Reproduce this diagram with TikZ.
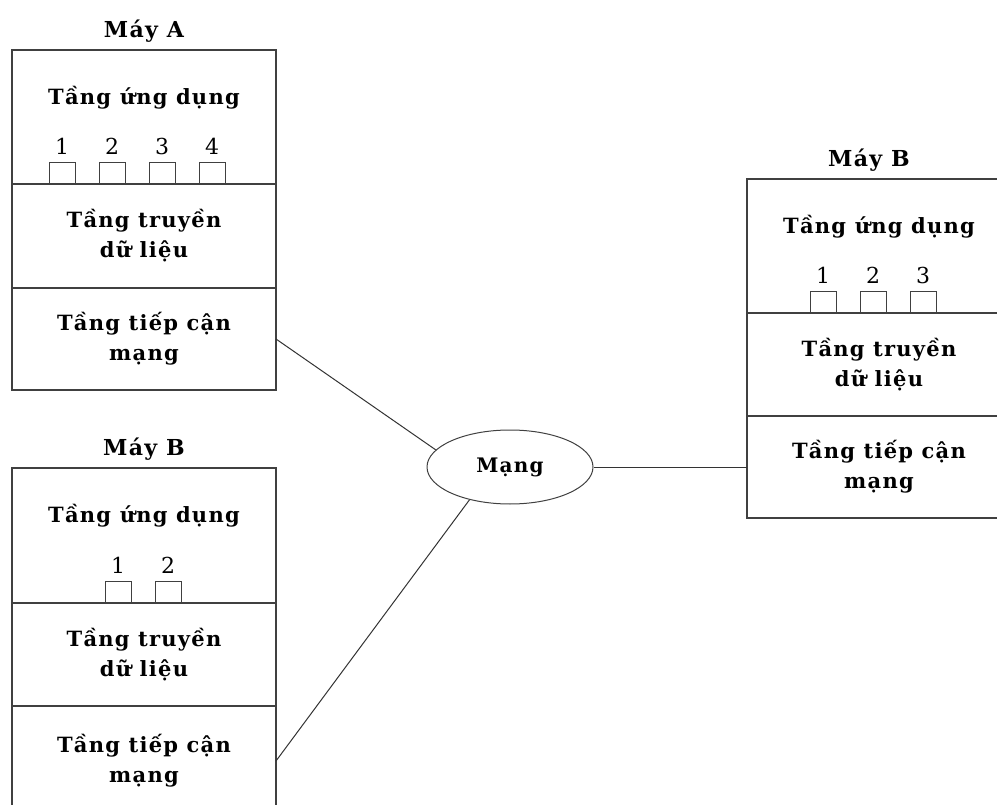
\documentclass[tikz,border=0pt]{standalone}
\usepackage{fontspec}
\setmainfont{DejaVu Serif}
\newfontfamily\lblfont[LetterSpace=6]{DejaVu Serif}
\usetikzlibrary{positioning}
\usetikzlibrary{shapes.geometric}

\begin{document}
\begin{tikzpicture}[x=1pt, y=-1pt,
layer/.style={draw=black!75, line width=1.3pt, minimum width=264pt, inner sep=0pt, outer sep=0pt, align=center, font=\lblfont\bfseries\fontsize{21}{30}\selectfont},
title/.style={font=\lblfont\bfseries\fontsize{22}{26}\selectfont},
txt/.style={font=\lblfont\bfseries\fontsize{21}{26}\selectfont},
port/.style={draw=black!75, line width=1pt, minimum width=26pt, minimum height=21pt, inner sep=0pt, anchor=south},
num/.style={font=\fontsize{22}{26}\selectfont, label distance=4pt},
link/.style={draw=black!80, line width=1pt}
]
\useasboundingbox (0,0) rectangle (997,805);

%create nodes
\node[layer, minimum height=134pt, anchor=north west] (appA) at (12,50) {};
\node[layer, minimum height=104pt, below=0pt of appA] (tranA) {Tầng truyền\\dữ liệu};
\node[layer, minimum height=102pt, below=0pt of tranA] (netA) {Tầng tiếp cận\\mạng};
\node[title, above=4pt of appA] (mayA) {Máy A};
\node[txt, below=33pt of appA.north] (tA) {Tầng ứng dụng};
\foreach \i/\x in {1/62, 2/112, 3/162, 4/212}
  \node[port, label={[num]above:\i}] (pA\i) at (\x,184) {};

\node[layer, minimum height=135pt, anchor=north west] (appB) at (12,468) {};
\node[layer, minimum height=103pt, below=0pt of appB] (tranB) {Tầng truyền\\dữ liệu};
\node[layer, minimum height=110pt, below=0pt of tranB] (netB) {Tầng tiếp cận\\mạng};
\node[title, above=4pt of appB] (mayB) {Máy B};
\node[txt, below=33pt of appB.north] (tB) {Tầng ứng dụng};
\foreach \i/\x in {1/118, 2/168}
  \node[port, label={[num]above:\i}] (pB\i) at (\x,603) {};

\node[layer, minimum height=134pt, anchor=north west] (appC) at (747,179) {};
\node[layer, minimum height=103pt, below=0pt of appC] (tranC) {Tầng truyền\\dữ liệu};
\node[layer, minimum height=102pt, below=0pt of tranC] (netC) {Tầng tiếp cận\\mạng};
\node[title, above=4pt of appC, xshift=-10pt] (mayC) {Máy B};
\node[txt, below=33pt of appC.north] (tC) {Tầng ứng dụng};
\foreach \i/\x in {1/823, 2/873, 3/923}
  \node[port, label={[num]above:\i}] (pC\i) at (\x,313) {};

\node[ellipse, draw=black!75, line width=1pt, minimum width=166pt, minimum height=74pt, font=\lblfont\bfseries\fontsize{20}{24}\selectfont] (mang) at (510,467) {Mạng};

%draw paths
\draw[link] (netA.east) -- (mang.167);
\draw[link] (netB.east) -- (mang.219);
\draw[link] (mang.east) -- (netC.west);

\end{tikzpicture}
\end{document}
